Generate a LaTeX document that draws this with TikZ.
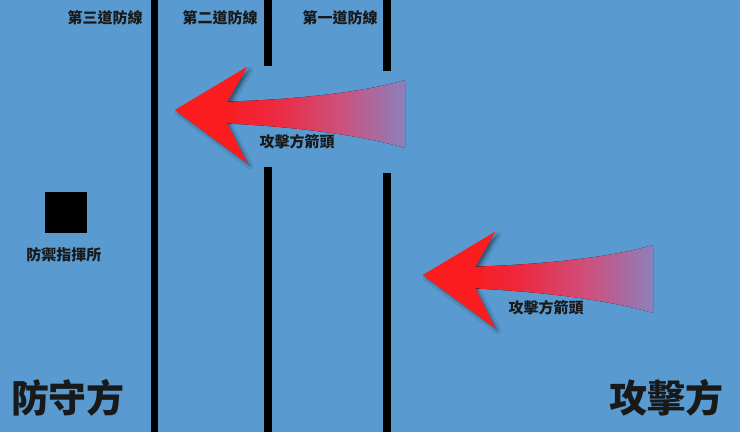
\documentclass[tikz,border=0pt]{standalone}
\usepackage{fontspec}
\newfontfamily\cjk{Noto Sans CJK TC}
\usetikzlibrary{shadows.blur}
\definecolor{bg}{RGB}{89,155,209}
\definecolor{arrowred}{RGB}{250,28,30}
\definecolor{sredb}{RGB}{238,40,62}
\definecolor{smid}{RGB}{205,80,125}
\definecolor{send}{RGB}{140,128,188}
\pgfdeclarehorizontalshading{shaftshade}{100bp}{color(0bp)=(arrowred); color(25bp)=(arrowred); color(40bp)=(sredb); color(58bp)=(smid); color(75bp)=(send); color(100bp)=(send)}
\tikzset{
  small/.style={font=\cjk\bfseries\fontsize{15}{15}\selectfont, text=black!90, inner sep=0pt},
  big/.style={font=\cjk\bfseries\fontsize{38}{38}\selectfont, text=black!90, inner sep=0pt},
  wall/.style={fill=black},
  atkarrow/.pic={
    \fill[shading=shaftshade]
      (40,-8) .. controls (120,-10) and (190,-18) .. (230,-30)
      -- (230,38) .. controls (190,26) and (120,16) .. (40,13) -- cycle;
    \fill[arrowred, blur shadow={shadow xshift=3pt, shadow yshift=-3pt, shadow opacity=45, shadow blur radius=3pt}]
      (0,0) -- (72,-43) -- (52,-8) -- (52,13) -- (72,53) -- cycle;
    \fill[arrowred] (0,0) -- (72,-43) -- (52,-8) -- (58,-8) -- (58,13) -- (52,13) -- (72,53) -- cycle;
  }
}
\begin{document}
\begin{tikzpicture}[x=1pt,y=-1pt]
\fill[bg] (0,0) rectangle (740,432);
\useasboundingbox (0,0) rectangle (740,432);
% defence lines
\fill[wall] (150.5,0) rectangle (158,432);
\fill[wall] (263.5,0) rectangle (271.5,66);
\fill[wall] (263.5,167) rectangle (271.5,432);
\fill[wall] (382.5,0) rectangle (390.5,71);
\fill[wall] (382.5,173) rectangle (390.5,432);
% line labels
\node[small] (l3) at (105,18) {第三道防線};
\node[small] (l2) at (220,18) {第二道防線};
\node[small] (l1) at (340,18) {第一道防線};
% command post
\fill[black] (45,192) rectangle (87,233);
\node[small] (hq) at (64,255) {防禦指揮所};
% arrows
\pic at (175,110) {atkarrow};
\node[small] (a1) at (297,142) {攻擊方箭頭};
\pic at (423,275) {atkarrow};
\node[small] (a2) at (546,308) {攻擊方箭頭};
% sides
\node[big] (def) at (68,398) {防守方};
\node[big] (att) at (666,398) {攻擊方};
\end{tikzpicture}
\end{document}
